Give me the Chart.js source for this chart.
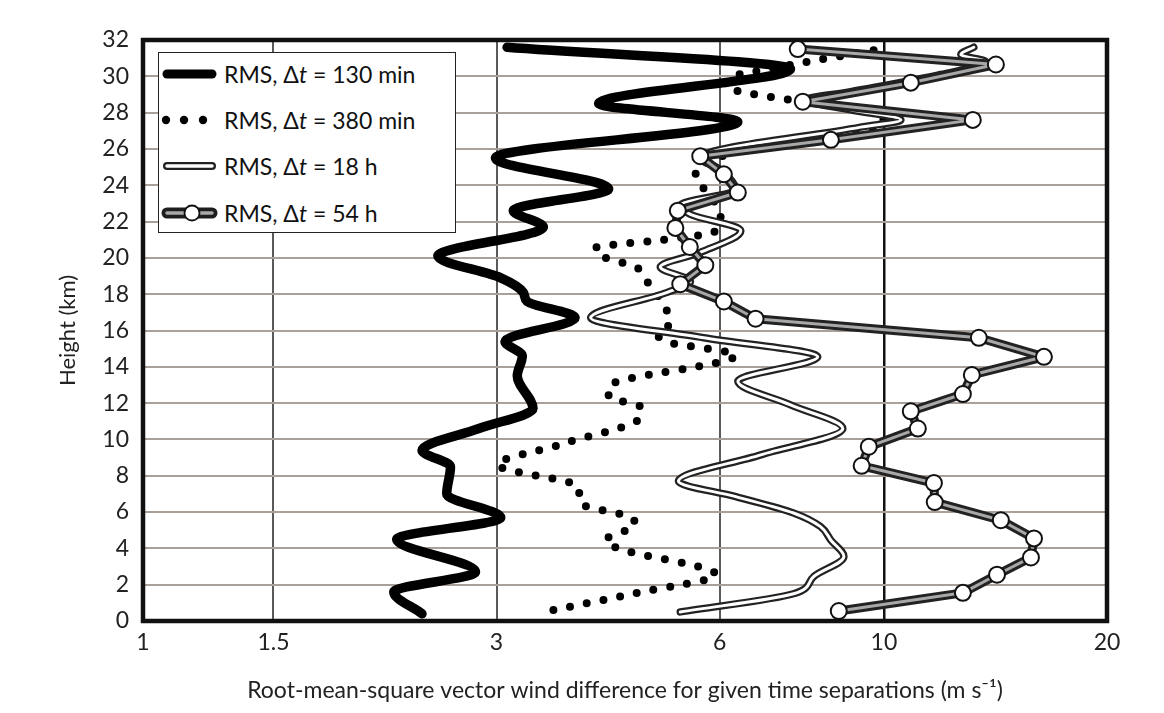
<!DOCTYPE html>
<html>
<head>
<meta charset="utf-8">
<script src="https://cdn.jsdelivr.net/npm/chart.js@4.4.0/dist/chart.umd.min.js"></script>
<style>
  html, body { margin: 0; padding: 0; background: #fff; }
  #wrap { position: relative; width: 1164px; height: 713px; }
  #legend {
    position: absolute; left: 158px; top: 52px; width: 296px; height: 179px;
    border: 1.5px solid #222; background: #fff;
    font-family: Lato, sans-serif; font-size: 23px; color: #111;
  }
  .row { position: absolute; left: 2px; height: 30px; display: flex; align-items: center; white-space: nowrap; }
  .row svg { width: 60px; height: 24px; margin-right: 3px; }
</style>
</head>
<body>
<div id="wrap">
  <canvas id="chart" width="1164" height="713"></canvas>
  <div id="legend">
    <div class="row" style="top:6px">
      <svg viewBox="0 0 60 24"><line x1="6" y1="12" x2="51" y2="12" stroke="#000" stroke-width="9" stroke-linecap="round"/></svg>
      <span>RMS, Δ<i>t</i> = 130 min</span>
    </div>
    <div class="row" style="top:52px">
      <svg viewBox="0 0 60 24"><circle cx="5" cy="12" r="4.2" fill="#000"/><circle cx="23" cy="12" r="4.2" fill="#000"/><circle cx="42" cy="12" r="4.2" fill="#000"/></svg>
      <span>RMS, Δ<i>t</i> = 380 min</span>
    </div>
    <div class="row" style="top:98px">
      <svg viewBox="0 0 60 24"><line x1="6" y1="12" x2="51" y2="12" stroke="#222" stroke-width="8" stroke-linecap="round"/><line x1="6" y1="12" x2="51" y2="12" stroke="#fff" stroke-width="3.5" stroke-linecap="round"/></svg>
      <span>RMS, Δ<i>t</i> = 18 h</span>
    </div>
    <div class="row" style="top:145px">
      <svg viewBox="0 0 60 24"><line x1="6" y1="12" x2="51" y2="12" stroke="#1e1e1e" stroke-width="11" stroke-linecap="round"/><line x1="6" y1="12" x2="51" y2="12" stroke="#a8a8a8" stroke-width="3.5" stroke-linecap="round"/><circle cx="31" cy="12" r="7.5" fill="#fff" stroke="#111" stroke-width="1.8"/></svg>
      <span>RMS, Δ<i>t</i> = 54 h</span>
    </div>
  </div>
</div>
<script>
// ejes
const xTicks = [1, 1.5, 3, 6, 10, 20];
const yMin = 0;
const yMax = 32;

// RMS, Δt = 130 min
const h130 = [0.4, 1.6, 2.7, 4.5, 5.7, 7.0, 8.5, 9.4, 10.6, 11.7, 13.5, 14.6, 15.4, 16.7, 17.6, 18.1, 18.9, 20.1, 21.7, 22.6, 23.8, 25.5, 27.5, 28.5, 30.4, 31.6];
const v130 = [2.38, 2.18, 2.81, 2.20, 3.04, 2.57, 2.60, 2.38, 2.84, 3.36, 3.20, 3.25, 3.08, 3.83, 3.30, 3.26, 3.04, 2.50, 3.47, 3.16, 4.25, 2.99, 6.35, 4.12, 7.48, 3.10];

// RMS, Δt = 380 min
const h380 = [0.6, 1.55, 2.55, 4.0, 4.45, 5.3, 5.75, 6.5, 7.4, 8.6, 9.75, 11.25, 11.8, 12.35, 12.9, 14.65, 15.35, 15.85, 16.4, 17.25, 18.8, 19.5, 20.05, 20.55, 21.0, 21.4, 22.2, 23.6, 24.2, 24.75, 25.4, 26.25, 26.8, 27.35, 28.05, 28.7, 29.15, 29.4, 30.05, 30.25, 30.75, 31.55];
const v380 = [3.58, 4.65, 5.93, 4.38, 4.21, 4.62, 4.52, 3.89, 3.87, 3.01, 3.68, 4.69, 4.69, 4.25, 4.25, 6.31, 5.12, 4.95, 5.15, 5.07, 4.77, 4.62, 4.18, 4.08, 5.04, 5.89, 6.02, 5.78, 5.60, 5.57, 5.89, 6.82, 8.29, 9.99, 9.90, 7.48, 6.41, 6.11, 6.31, 6.67, 7.77, 10.06];

// RMS, Δt = 18 h
const h18 = [0.5, 1.5, 2.45, 3.55, 4.45, 5.2, 5.95, 6.85, 7.7, 9.15, 10.6, 11.9, 13.2, 14.55, 15.6, 16.7, 18.1, 18.7, 19.5, 20.3, 21.5, 22.4, 22.9, 23.75, 24.85, 25.5, 27.2, 27.6, 28.15, 28.7, 29.15, 30.1, 30.8, 31.2, 31.6];
const v18 = [5.31, 7.55, 8.04, 8.83, 8.48, 8.21, 7.55, 6.31, 5.28, 6.82, 8.80, 7.48, 6.35, 8.14, 5.71, 4.02, 5.10, 5.48, 4.99, 5.65, 6.41, 5.48, 5.31, 6.31, 6.02, 5.65, 9.30, 10.54, 9.02, 7.84, 9.02, 11.93, 13.73, 12.70, 13.22];

// RMS, Δt = 54 h
const h54 = [0.55, 1.55, 2.55, 3.5, 4.55, 5.55, 6.55, 7.6, 8.55, 9.6, 10.6, 11.55, 12.5, 13.55, 14.55, 15.6, 16.65, 17.6, 18.55, 19.6, 20.6, 21.65, 22.6, 23.6, 24.6, 25.6, 26.5, 27.6, 28.6, 29.65, 30.65, 31.5];
const v54 = [8.69, 12.78, 14.21, 15.79, 15.94, 14.38, 11.71, 11.68, 9.33, 9.54, 11.11, 10.87, 12.78, 13.14, 16.44, 13.43, 6.71, 6.08, 5.31, 5.74, 5.47, 5.23, 5.27, 6.35, 6.08, 5.65, 8.48, 13.18, 7.77, 10.87, 14.16, 7.65];

function puntos(alturas, valores) {
  return alturas.map((h, i) => ({ x: valores[i], y: h }));
}

const fuente = 'Lato, sans-serif';

// marco negro alrededor del area del grafico
const marco = {
  id: 'marco',
  beforeDatasetsDraw(chart) {
    const { ctx, chartArea: a } = chart;
    ctx.save();
    ctx.strokeStyle = '#111';
    ctx.lineWidth = 4.5;
    ctx.strokeRect(a.left, a.top, a.right - a.left, a.bottom - a.top);
    ctx.restore();
  }
};

const config = {
  type: 'line',
  data: {
    datasets: [
      { label: 'RMS, Δt = 54 h', data: puntos(h54, v54), borderColor: '#a8a8a8', borderWidth: 3, tension: 0,
        borderJoinStyle: 'round', borderCapStyle: 'round',
        pointRadius: 8, pointBackgroundColor: '#fff', pointBorderColor: '#111', pointBorderWidth: 2, order: 0 },
      { data: puntos(h54, v54), borderColor: '#222', borderWidth: 9, tension: 0,
        borderJoinStyle: 'round', borderCapStyle: 'round', pointRadius: 0, order: 1 },
      { label: 'RMS, Δt = 18 h', data: puntos(h18, v18), borderColor: '#fff', borderWidth: 3,
        borderJoinStyle: 'round', borderCapStyle: 'round',
        cubicInterpolationMode: 'monotone', pointRadius: 0, order: 2 },
      { data: puntos(h18, v18), borderColor: '#222', borderWidth: 7.5,
        borderJoinStyle: 'round', borderCapStyle: 'round',
        cubicInterpolationMode: 'monotone', pointRadius: 0, order: 3 },
      { label: 'RMS, Δt = 380 min', data: puntos(h380, v380), borderColor: '#000', borderWidth: 8,
        borderDash: [0, 17], borderCapStyle: 'round', cubicInterpolationMode: 'monotone', pointRadius: 0, order: 4 },
      { label: 'RMS, Δt = 130 min', data: puntos(h130, v130), borderColor: '#000', borderWidth: 9.5,
        borderCapStyle: 'round', borderJoinStyle: 'round', cubicInterpolationMode: 'monotone', pointRadius: 0, order: 5 }
    ]
  },
  options: {
    responsive: false,
    animation: false,
    indexAxis: 'y',
    layout: { padding: { top: 40, right: 57, left: 0, bottom: 0 } },
    plugins: { legend: { display: false }, tooltip: { enabled: false } },
    scales: {
      x: {
        type: 'logarithmic',
        min: xTicks[0],
        max: xTicks[xTicks.length - 1],
        afterBuildTicks: s => { s.ticks = xTicks.map(v => ({ value: v })); },
        afterFit: s => { s.height = 92; },
        ticks: { callback: v => String(v), font: { family: fuente, size: 23 }, color: '#222', padding: 8, autoSkip: false, maxRotation: 0 },
        grid: {
          drawTicks: false,
          color: c => c.tick.value === 10 ? '#111' : (c.tick.value === 1 || c.tick.value === 20 ? 'rgba(0,0,0,0)' : '#5a5a5a'),
          lineWidth: c => c.tick.value === 10 ? 2.5 : 2
        },
        border: { display: false },
        title: { display: true, text: 'Root-mean-square vector wind difference for given time separations (m s⁻¹)',
          font: { family: fuente, size: 23 }, color: '#222', padding: { top: 0, bottom: 9 } }
      },
      y: {
        type: 'linear',
        min: yMin,
        max: yMax,
        afterFit: s => { s.width = 143; },
        ticks: { stepSize: 2, font: { family: fuente, size: 23 }, color: '#222', padding: 14 },
        grid: { drawTicks: false, color: '#aaa09a', lineWidth: 2 },
        border: { display: false },
        title: { display: true, text: 'Height (km)', font: { family: fuente, size: 22 }, color: '#222', padding: { top: 55, bottom: 0 } }
      }
    }
  },
  plugins: [marco]
};

const ctx = document.getElementById('chart').getContext('2d');
const grafico = new Chart(ctx, config);
</script>
</body>
</html>
